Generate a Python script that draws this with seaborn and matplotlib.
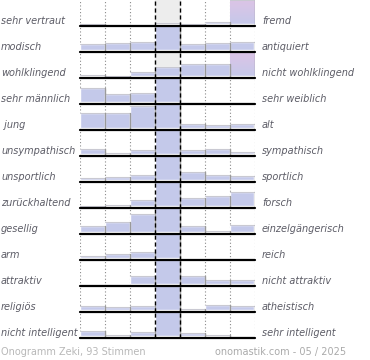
import numpy as np
import pandas as pd
import seaborn as sns
import matplotlib.pyplot as plt
from matplotlib.colors import LinearSegmentedColormap

# semantic differential, left pole / right pole
left_labels = ["sehr vertraut", "modisch", "wohlklingend", "sehr männlich", " jung",
               "unsympathisch", "unsportlich", "zurückhaltend", "gesellig", "arm",
               "attraktiv", "religiös", "nicht intelligent"]
right_labels = ["fremd", "antiquiert", "nicht wohlklingend", "sehr weiblich", "alt",
                "sympathisch", "sportlich", "forsch", "einzelgängerisch", "reich",
                "nicht attraktiv", "atheistisch", "sehr intelligent"]

# share of votes (%) for the 7 scale steps, per row
votes = [
    [2, 1, 1, 3, 2, 4, 87],
    [8, 9, 10, 46, 8, 9, 10],
    [3, 2, 6, 11, 13, 13, 52],
    [15, 10, 11, 62, 1, 0, 1],
    [16, 16, 23, 28, 6, 5, 6],
    [7, 3, 6, 67, 6, 7, 4],
    [4, 5, 7, 61, 10, 7, 6],
    [2, 3, 8, 50, 10, 12, 15],
    [8, 12, 19, 41, 8, 3, 9],
    [4, 6, 8, 80, 0, 1, 1],
    [1, 1, 10, 66, 10, 6, 6],
    [6, 5, 6, 67, 3, 7, 6],
    [7, 3, 6, 75, 5, 3, 1],
]
steps = [1, 2, 3, 4, 5, 6, 7]

footer_left = "Onogramm Zeki, 93 Stimmen"
footer_right = "onomastik.com - 05 / 2025"

CAP = 25          # row height in percent
ROW_PX = 26
BAR = '#c4c9ea'
BOTTOM = '#ada4d6'
TXT = '#5c5c66'

sns.set_style("white")
plt.rcParams['font.family'] = ['DejaVu Sans']

fig, axes = plt.subplots(13, 1, figsize=(3.7, 3.6), dpi=100, sharex=True,
                         gridspec_kw={'hspace': 0})
fig.subplots_adjust(left=80/370, right=254.5/370, top=1, bottom=22/360)

pink = LinearSegmentedColormap.from_list('pk', [BAR, '#dcc4e6'])
strip = 2 / ROW_PX * CAP

for i, ax in enumerate(axes):
    ax.set_zorder(20 - i)
    ax.patch.set_visible(False)
    vals = votes[i]
    df = pd.DataFrame({'step': steps, 'pct': vals,
                       'low': np.minimum(vals, strip)})

    ax.axvspan(2.5, 3.5, color='#ededed', zorder=0)
    for xe in [-0.5, 0.5, 1.5, 4.5, 5.5, 6.5]:
        ax.axvline(xe, color='#8a8a8a', lw=0.8, ls=(0, (1, 2)), zorder=0.5)

    sns.barplot(data=df, x='step', y='pct', color=BAR, width=1, saturation=1,
                errorbar=None, ax=ax, zorder=1)

    for c, v in enumerate(vals):
        if v > CAP and c != 3:
            ax.imshow(np.linspace(0, 1, 50).reshape(-1, 1), cmap=pink, origin='lower',
                      extent=[c - 0.5, c + 0.5, 0, CAP], aspect='auto', zorder=1.5)

    sns.barplot(data=df, x='step', y='low', color=BOTTOM, width=1, saturation=1,
                errorbar=None, ax=ax, zorder=2)

    for c, v in enumerate(vals):
        h = min(v, CAP)
        if h > 0:
            ax.plot([c - 0.5, c + 0.5], [h, h], color='#c9c9d2', lw=0.8, zorder=2.5)
            ax.plot([c + 0.5, c + 0.5], [0, h], color='#9a9a9a', lw=1, zorder=2.6)

    for xe in [2.5, 3.5]:
        ax.plot([xe, xe], [0, CAP], color='black', lw=1, ls=(0, (3, 2)), zorder=5)
    ax.axhline(0, color='black', lw=1.6, zorder=6, clip_on=False)

    ax.set_xlim(-0.5, 6.5)
    ax.set_ylim(0, CAP)
    ax.set_axis_off()

    yb = (22 + (12 - i) * ROW_PX + 2) / 360
    fig.text(1/370, yb, left_labels[i], fontsize=7, style='italic', color=TXT, va='baseline')
    fig.text(262/370, yb, right_labels[i], fontsize=7, style='italic', color=TXT, va='baseline')

fig.text(1/370, 5/360, footer_left, fontsize=7, color='#b8b8b8', va='baseline')
fig.text(346/370, 5/360, footer_right, fontsize=7, color='#aaaaaa', va='baseline', ha='right')

fig.savefig('out.png', dpi=100)
